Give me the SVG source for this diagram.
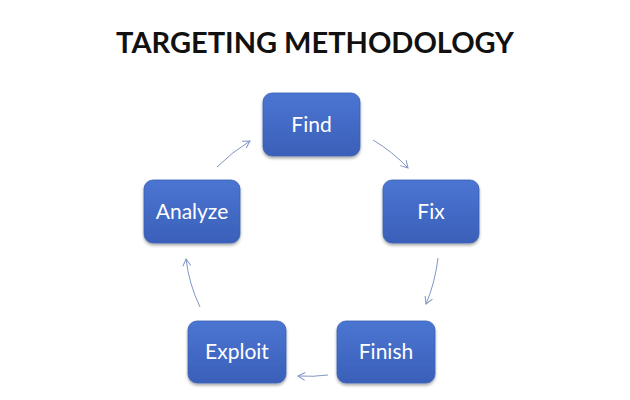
<svg xmlns="http://www.w3.org/2000/svg" width="630" height="400" viewBox="0 0 630 400">
<style>
.box{fill:url(#g);stroke:#3b5fb3;stroke-width:0.8;filter:url(#sh)}
.lbl{font-family:Lato,"Open Sans","Liberation Sans",sans-serif;font-size:21px;fill:#ffffff;text-anchor:middle}
.title{font-family:Lato,"Liberation Sans",sans-serif;font-weight:bold;font-size:29px;fill:#111111;text-anchor:middle}
.con{fill:none;stroke:#8196c4;stroke-width:1;marker-end:url(#ah)}
</style>
<defs>
<linearGradient id="g" x1="0" y1="0" x2="0" y2="1">
<stop offset="0" stop-color="#4b75d2"/>
<stop offset="1" stop-color="#3a60b9"/>
</linearGradient>
<filter id="sh" x="-20%" y="-20%" width="140%" height="150%">
<feDropShadow dx="0" dy="2" stdDeviation="1.5" flood-color="#000" flood-opacity="0.35"/>
</filter>
<marker id="ah" markerWidth="10" markerHeight="10" refX="8" refY="5" orient="auto" markerUnits="userSpaceOnUse">
<path d="M1,1 L8,5 L1,9" fill="none" stroke="#8196c4" stroke-width="1"/>
</marker>
</defs>
<rect width="630" height="400" fill="#ffffff"/>
<text class="title" x="315" y="53">TARGETING METHODOLOGY</text>
<g id="connectors">
<path class="con" d="M373,140 Q393,152 408,168"/>
<path class="con" d="M438,258 Q435,283 426,304"/>
<path class="con" d="M328,375 Q313,377 298,376"/>
<path class="con" d="M200,307 Q189,284 186,259"/>
<path class="con" d="M217,167 Q232,152 250,141"/>
</g>
<g id="find"><rect class="box" x="263" y="93" width="97" height="63" rx="9"/><text class="lbl" x="311.5" y="132">Find</text></g>
<g id="fix"><rect class="box" x="383" y="180" width="96" height="63" rx="9"/><text class="lbl" x="431" y="219">Fix</text></g>
<g id="finish"><rect class="box" x="337" y="321" width="98" height="62" rx="9"/><text class="lbl" x="386" y="359">Finish</text></g>
<g id="exploit"><rect class="box" x="188" y="321" width="98" height="62" rx="9"/><text class="lbl" x="237" y="359">Exploit</text></g>
<g id="analyze"><rect class="box" x="144" y="180" width="96" height="63" rx="9"/><text class="lbl" x="192" y="219">Analyze</text></g>
</svg>
